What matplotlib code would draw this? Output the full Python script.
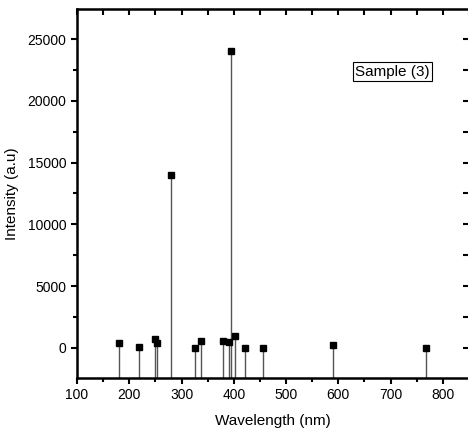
import matplotlib
matplotlib.use("Agg")
import matplotlib.pyplot as plt
from matplotlib.ticker import MultipleLocator

wavelength = [181, 218, 250, 253, 280, 325, 337, 380, 390, 394, 403, 422, 456, 590, 767]
intensity = [380, 110, 730, 400, 14000, 0, 570, 570, 460, 24000, 970, 0, 0, 240, 0]

plt.rcParams['font.family'] = ['Liberation Sans', 'DejaVu Sans']

fig = plt.figure(figsize=(4.68, 4.48), dpi=100)
ax = fig.add_axes([77/468, 70/448, (469-77)/468, (378-9)/448])

ymin, ymax = -2430, 27430
ax.vlines(wavelength, ymin, intensity, color='#555555', linewidth=1.0, zorder=2)
ax.plot(wavelength, intensity, 's', color='black', markersize=5, zorder=3)

ax.set_xlim(100, 850)
ax.set_ylim(ymin, ymax)
ax.xaxis.set_major_locator(MultipleLocator(100))
ax.xaxis.set_minor_locator(MultipleLocator(50))
ax.yaxis.set_major_locator(MultipleLocator(5000))
ax.yaxis.set_minor_locator(MultipleLocator(2500))

for s in ax.spines.values():
    s.set_linewidth(1.8)

ax.tick_params(axis='x', which='both', bottom=True, top=False, direction='out', labelsize=10, width=1.5)
ax.tick_params(axis='y', which='both', left=True, right=False, direction='out', labelsize=10, width=1.5)
ax.tick_params(which='major', length=4)
ax.tick_params(which='minor', length=3)

axt = ax.secondary_xaxis('top')
axt.xaxis.set_major_locator(MultipleLocator(100))
axt.xaxis.set_minor_locator(MultipleLocator(50))
axt.tick_params(which='both', direction='in', labeltop=False, width=1.5, length=4)
axr = ax.secondary_yaxis('right')
axr.yaxis.set_major_locator(MultipleLocator(5000))
axr.yaxis.set_minor_locator(MultipleLocator(2500))
axr.tick_params(which='both', direction='in', labelright=False, width=1.5, length=4)

ax.set_xlabel('Wavelength (nm)', fontsize=11, labelpad=8)
ax.set_ylabel('Intensity (a.u)', fontsize=11, labelpad=6)

ax.text(0.804, 0.83, 'Sample (3)', transform=ax.transAxes, ha='center', va='center',
        fontsize=11, bbox=dict(boxstyle='square,pad=0.15', facecolor='white', edgecolor='black', linewidth=0.8))

fig.savefig('out.png', dpi=100)
